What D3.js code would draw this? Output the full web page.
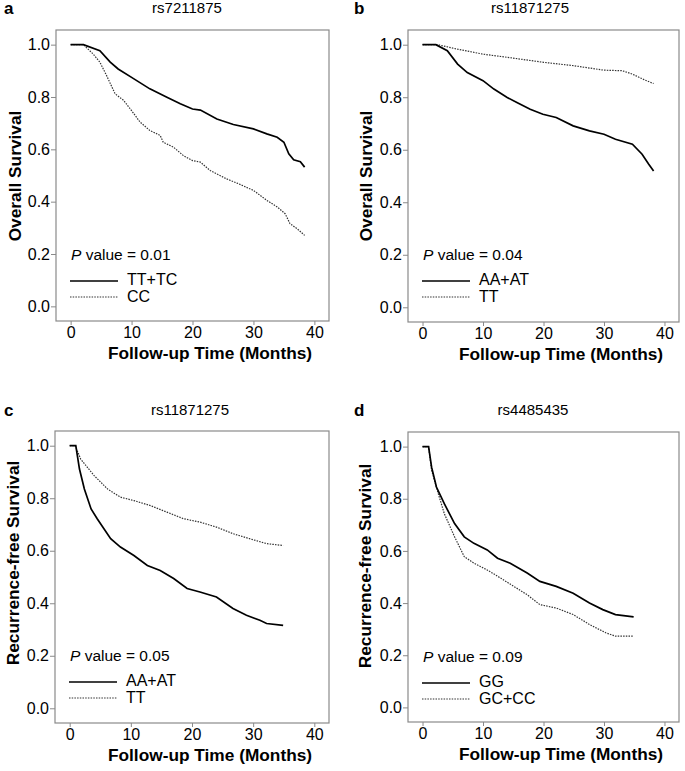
<!DOCTYPE html>
<html lang="en">
<head>
<meta charset="UTF-8">
<title>Kaplan-Meier curves by genotype</title>
<script src="https://cdn.jsdelivr.net/npm/d3@7"></script>
<style>
  body { margin: 0; background: #fff; }
  svg text { font-family: "Liberation Sans", Arial, sans-serif; fill: #000; }
</style>
</head>
<body>
<div id="chart"></div>
<script>
// survival estimates: [months, survival]
var osA_TTTC = [[0,1],[2.1,1],[4.8,0.977],[6.5,0.933],[7.8,0.907],[10,0.875],[13,0.831],[15.8,0.799],[18,0.774],[20,0.754],[21.3,0.75],[24,0.716],[26.7,0.695],[30,0.678],[32.2,0.659],[33.9,0.646],[35,0.627],[35.8,0.583],[36.6,0.56],[37.7,0.553],[38.4,0.532]];
var osA_CC   = [[0,1],[2.1,1],[3.7,0.964],[4.8,0.933],[5.9,0.882],[7.3,0.812],[8.7,0.787],[10,0.748],[11.4,0.704],[13,0.672],[14.7,0.653],[15.2,0.627],[16.9,0.608],[18.5,0.576],[20,0.557],[21.3,0.551],[22.9,0.519],[25.6,0.487],[27.3,0.471],[30,0.443],[32.2,0.405],[33.9,0.38],[35.2,0.354],[36,0.316],[37.2,0.296],[38.4,0.271]];
var osB_AAAT = [[0,1],[2.2,1],[4.1,0.977],[5.8,0.926],[7.4,0.894],[10,0.863],[11.8,0.831],[14,0.799],[15.6,0.78],[17.8,0.754],[19.9,0.735],[22.1,0.723],[24.9,0.691],[27.6,0.672],[30,0.659],[31.9,0.64],[34.7,0.621],[36.3,0.583],[37.4,0.545],[38.2,0.519]];
var osB_TT   = [[0,1],[2.5,1],[5.8,0.983],[10,0.964],[14,0.952],[20,0.933],[25,0.92],[30,0.903],[33,0.901],[34.7,0.888],[36.8,0.865],[38.2,0.852]];
var rfsC_AAAT = [[0,1],[1,1],[1.6,0.911],[2.4,0.835],[3.5,0.759],[4.5,0.722],[5.6,0.684],[6.7,0.646],[8.3,0.614],[10.5,0.582],[12.7,0.544],[14.8,0.525],[17,0.494],[19.2,0.456],[21.3,0.443],[24,0.424],[26.7,0.38],[28.9,0.354],[31.1,0.335],[32.2,0.323],[34.9,0.316]];
var rfsC_TT   = [[0,1],[0.9,1],[1.8,0.949],[4,0.886],[6.2,0.835],[8.3,0.804],[10.5,0.791],[13.2,0.772],[15.9,0.747],[18.6,0.722],[21.3,0.709],[24,0.69],[26.7,0.665],[29.4,0.646],[32.2,0.627],[34.9,0.62]];
var rfsD_GG   = [[0,1],[1,1],[1.5,0.921],[2.3,0.845],[3.6,0.781],[5.3,0.705],[6.9,0.654],[8.5,0.629],[10.7,0.604],[12.4,0.572],[14.5,0.553],[17.3,0.515],[19.4,0.483],[22.1,0.464],[24.9,0.438],[27.6,0.4],[29.8,0.375],[31.9,0.356],[34.9,0.347]];
var rfsD_GCCC = [[0,1],[1,1],[1.5,0.909],[2.6,0.82],[3.6,0.743],[5.3,0.654],[6.9,0.578],[8.5,0.553],[10.7,0.527],[12.9,0.496],[15.1,0.464],[17.3,0.432],[19.4,0.394],[22.1,0.381],[24.9,0.356],[27.6,0.318],[30.3,0.286],[31.9,0.273],[34.9,0.273]];

var xTicks = [0, 10, 20, 30, 40];
var yTicks = [0, 0.2, 0.4, 0.6, 0.8, 1.0];
var panelLetters = ["a", "b", "c", "d"];
var panelTitles = ["rs7211875", "rs11871275", "rs11871275", "rs4485435"];
var yTitles = ["Overall Survival", "Overall Survival", "Recurrence-free Survival", "Recurrence-free Survival"];
var pValues = ["0.01", "0.04", "0.05", "0.09"];
var solidNames = ["TT+TC", "AA+AT", "AA+AT", "GG"];
var dottedNames = ["CC", "TT", "TT", "GC+CC"];
var solidSeries = [osA_TTTC, osB_AAAT, rfsC_AAAT, rfsD_GG];
var dottedSeries = [osA_CC, osB_TT, rfsC_TT, rfsD_GCCC];

// plot frames (pixels) for each panel
var boxes = [
  {x0: 56,  y0: 30,  x1: 329, y1: 321, titleX: 187, letterX: 4,   yTitleX: 15,  yTitleY: 176, xTitleX: 210, top: 0},
  {x0: 408, y0: 30,  x1: 679, y1: 322, titleX: 530, letterX: 354, yTitleX: 366, yTitleY: 176, xTitleX: 561, top: 0},
  {x0: 55,  y0: 431, x1: 329, y1: 723, titleX: 190, letterX: 4,   yTitleX: 13,  yTitleY: 563, xTitleX: 210, top: 402},
  {x0: 408, y0: 432, x1: 679, y1: 722, titleX: 533, letterX: 354, yTitleX: 365, yTitleY: 566, xTitleX: 561, top: 402}
];

var svg = d3.select("#chart").append("svg")
  .attr("width", 685)
  .attr("height", 771);

var axisGrey = "#8a8a8a";

boxes.forEach(function (b, i) {
  var x = d3.scaleLinear().domain([-2.4, 42.4]).range([b.x0, b.x1]);
  var y = d3.scaleLinear().domain([-0.056, 1.056]).range([b.y1, b.y0]);
  var g = svg.append("g");

  g.append("text")
    .attr("x", b.letterX).attr("y", b.top + 14)
    .style("font-size", "17px").style("font-weight", "bold")
    .text(panelLetters[i]);
  g.append("text")
    .attr("x", b.titleX).attr("y", b.top + 13)
    .attr("text-anchor", "middle")
    .style("font-size", "15px")
    .text(panelTitles[i]);

  g.append("rect")
    .attr("x", b.x0).attr("y", b.y0)
    .attr("width", b.x1 - b.x0).attr("height", b.y1 - b.y0)
    .attr("fill", "none").attr("stroke", axisGrey).attr("stroke-width", 1.2);

  // y axis ticks
  var ya = g.append("g")
    .attr("transform", "translate(" + b.x0 + ",0)")
    .call(d3.axisLeft(y).tickValues(yTicks).tickFormat(d3.format(".1f")).tickSize(5).tickPadding(1));
  ya.select(".domain").remove();
  ya.selectAll("line").attr("stroke", axisGrey);
  ya.selectAll("text").style("font-size", "16px").attr("font-family", null);

  var xa = g.append("g")
    .attr("transform", "translate(0," + b.y1 + ")")
    .call(d3.axisBottom(x).tickValues(xTicks).tickSize(4).tickPadding(2));
  xa.select(".domain").remove();
  xa.selectAll("line").attr("stroke", axisGrey);
  xa.selectAll("text").style("font-size", "16px").attr("font-family", null);

  g.append("text")
    .attr("transform", "translate(" + b.yTitleX + "," + b.yTitleY + ") rotate(-90)")
    .attr("text-anchor", "middle").attr("dy", "0.35em")
    .style("font-size", "17.3px").style("font-weight", "bold")
    .text(yTitles[i]);
  g.append("text")
    .attr("x", b.xTitleX).attr("y", b.y1 + 38)
    .attr("text-anchor", "middle")
    .style("font-size", "17.3px").style("font-weight", "bold")
    .text("Follow-up Time (Months)");

  var line = d3.line()
    .x(function (d) { return x(d[0]); })
    .y(function (d) { return y(d[1]); });

  g.append("path").datum(dottedSeries[i])
    .attr("d", line).attr("fill", "none")
    .attr("stroke", "#333").attr("stroke-width", 1.2)
    .attr("stroke-dasharray", "1.5,1.2");
  g.append("path").datum(solidSeries[i])
    .attr("d", line).attr("fill", "none")
    .attr("stroke", "#000").attr("stroke-width", 1.7);

  // legend
  var lx = b.x0 + 14, ly = b.y0 + 230;
  var pt = g.append("text").attr("x", lx + 1).attr("y", ly).style("font-size", "15.5px");
  pt.append("tspan").style("font-style", "italic").text("P");
  pt.append("tspan").text(" value = " + pValues[i]);

  g.append("line")
    .attr("x1", lx).attr("x2", lx + 48)
    .attr("y1", ly + 21).attr("y2", ly + 21)
    .attr("stroke", "#000").attr("stroke-width", 1.7);
  g.append("line")
    .attr("x1", lx).attr("x2", lx + 48)
    .attr("y1", ly + 37).attr("y2", ly + 37)
    .attr("stroke", "#333").attr("stroke-width", 1.2)
    .attr("stroke-dasharray", "1.5,1.2");
  g.append("text").attr("x", lx + 57).attr("y", ly + 25)
    .style("font-size", "16px").text(solidNames[i]);
  g.append("text").attr("x", lx + 57).attr("y", ly + 42)
    .style("font-size", "16px").text(dottedNames[i]);
});
</script>
</body>
</html>
